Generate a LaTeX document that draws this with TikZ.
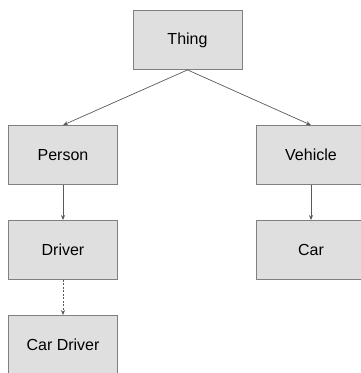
\documentclass[tikz,border=0pt]{standalone}
\usepackage{fontspec}
\setmainfont{Liberation Sans}
\usetikzlibrary{arrows.meta}
\begin{document}
\begin{tikzpicture}[x=1pt, y=1pt, node distance={95pt},
	node/.style = {draw=gray, line width=0.8pt, fill=gray!25, rectangle, minimum width=109pt, minimum height=59pt, inner sep=0pt, font=\fontsize{16}{18}\selectfont},
	link/.style = {draw=black!65, line width=0.7pt, -{Stealth[length=5pt,width=4pt]}}]
		\path[use as bounding box, clip] (0,0) rectangle (361,-373);
		\node[node] (thing) at (187.5,-40) {Thing};
		\node[node] (person) at (63,-155) {Person};
		\node[node] (vehicle) at (311,-155) {Vehicle};
		\node[node] (driver) [below of=person] {Driver};
		\node[node] (car) [below of=vehicle] {Car};
		\node[node] (cardriver) [below of=driver] {Car Driver};
		\draw[link] (thing.south) to (person.north);
		\draw[link] (thing.south) to (vehicle.north);
		\draw[link] (person) to (driver);
		\draw[link] (vehicle) to (car);
		\draw[link, dash pattern=on 2pt off 1.5pt] (driver) to (cardriver);

	\end{tikzpicture}
\end{document}
